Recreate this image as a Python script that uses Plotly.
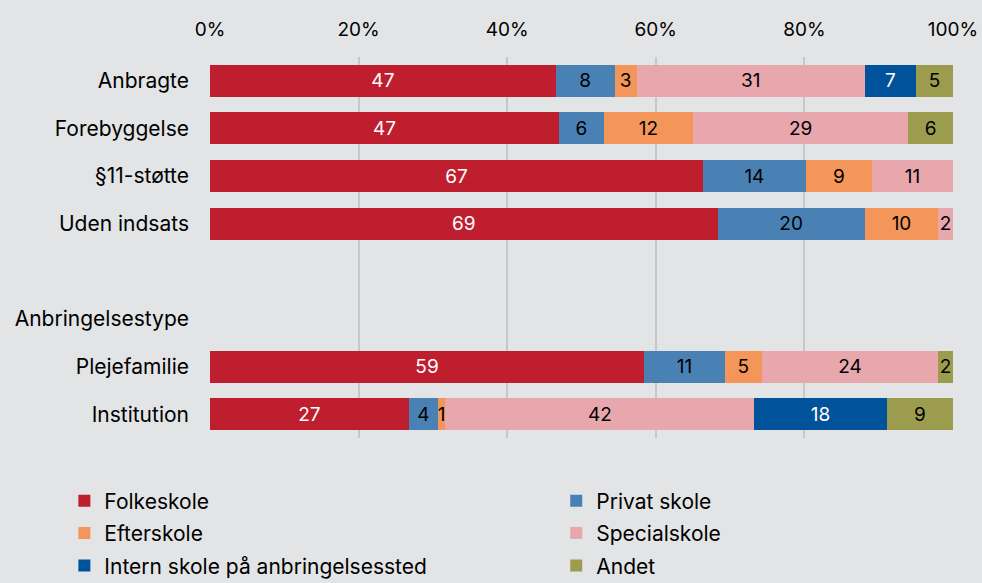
import plotly.graph_objects as go

categories = [
    "Anbragte",
    "Forebyggelse",
    "§11-støtte",
    "Uden indsats",
    " ",
    "Anbringelsestype",
    "Plejefamilie",
    "Institution",
]

folkeskole = [47, 47, 67, 69, None, None, 59, 27]
privat_skole = [8, 6, 14, 20, None, None, 11, 4]
efterskole = [3, 12, 9, 10, None, None, 5, 1]
specialskole = [31, 29, 11, 2, None, None, 24, 42]
intern_skole = [7, None, None, None, None, None, None, 18]
andet = [5, 6, None, None, None, None, 2, 9]

x_ticks = [0, 20, 40, 60, 80, 100]
x_tick_labels = ["0%", "20%", "40%", "60%", "80%", "100%"]

# (navn, værdier, farve, tekstfarve, legende)
series = [
    ("Folkeskole", folkeskole, "#BE1E2D", "white", "legend"),
    ("Privat skole", privat_skole, "#4A81B4", "black", "legend2"),
    ("Efterskole", efterskole, "#F4955A", "black", "legend"),
    ("Specialskole", specialskole, "#E8A6AD", "black", "legend2"),
    ("Intern skole på anbringelsessted", intern_skole, "#00529B", "white", "legend"),
    ("Andet", andet, "#9C9C4E", "black", "legend2"),
]

fig = go.Figure()

for name, values, color, text_color, legend_id in series:
    fig.add_trace(
        go.Bar(
            y=categories,
            x=values,
            name=name,
            legend=legend_id,
            legendgroup=name,
            orientation="h",
            marker=dict(color=color, line=dict(width=0)),
            text=[("" if v is None else str(v)) for v in values],
            textposition="inside",
            insidetextanchor="middle",
            textangle=0,
            textfont=dict(color=text_color, size=19),
            hovertemplate=name + ": %{text}<extra></extra>",
        )
    )

legend_style = dict(
    orientation="v",
    yanchor="top",
    y=-0.112,
    xanchor="left",
    traceorder="grouped",
    tracegroupgap=2,
    font=dict(size=21),
    itemwidth=30,
    bgcolor="rgba(0,0,0,0)",
)

fig.update_layout(
    barmode="stack",
    barnorm="percent",
    bargap=0.33,
    width=982,
    height=583,
    margin=dict(l=210, r=29, t=57, b=145, autoexpand=False),
    paper_bgcolor="#E3E4E6",
    plot_bgcolor="#E3E4E6",
    font=dict(family="Inter, Roboto, sans-serif", size=21, color="black"),
    uniformtext=dict(minsize=18, mode="show"),
    xaxis=dict(
        side="top",
        range=[0, 100],
        tickvals=x_ticks,
        ticktext=x_tick_labels,
        tickfont=dict(size=19),
        showgrid=True,
        gridcolor="#C6C7C9",
        gridwidth=1.5,
        zeroline=False,
        showline=False,
        ticks="",
        ticklabelstandoff=16,
        fixedrange=True,
    ),
    yaxis=dict(
        categoryorder="array",
        categoryarray=categories,
        autorange="reversed",
        showgrid=False,
        ticks="",
        tickfont=dict(size=21),
        ticklabelstandoff=20,
        fixedrange=True,
    ),
    legend=dict(legend_style, x=-0.196),
    legend2=dict(legend_style, x=0.466),
)

fig.write_html(
    "out.html",
    config={"displayModeBar": False},
    post_script="document.body.style.margin='0';",
)
